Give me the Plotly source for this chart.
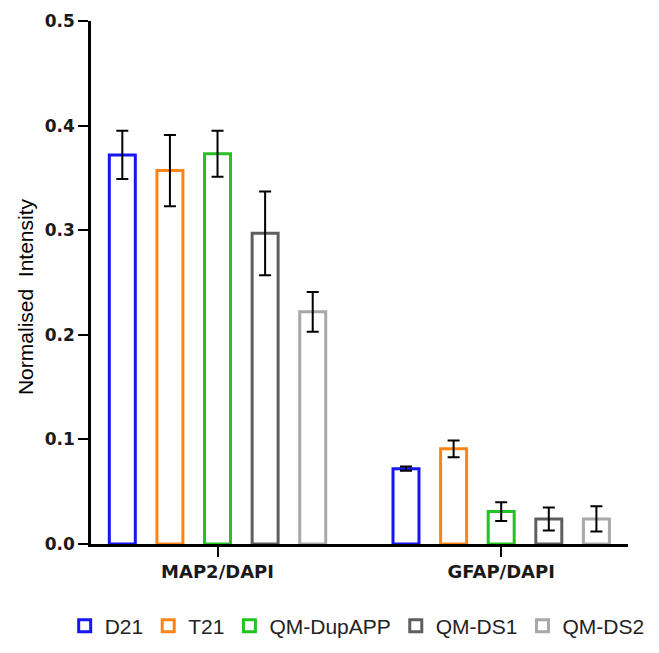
import plotly.graph_objects as go

categories = ["MAP2/DAPI", "GFAP/DAPI"]
series_names = ["D21", "T21", "QM-DupAPP", "QM-DS1", "QM-DS2"]
d21 = [0.372, 0.072]
d21_err = [0.023, 0.002]
t21 = [0.357, 0.091]
t21_err = [0.034, 0.008]
dupapp = [0.373, 0.031]
dupapp_err = [0.022, 0.009]
ds1 = [0.297, 0.024]
ds1_err = [0.040, 0.011]
ds2 = [0.222, 0.024]
ds2_err = [0.019, 0.012]
colors = ["#1515f5", "#ff8418", "#22c322", "#5f5f5f", "#a8a8a8"]
y_ticks = [0.0, 0.1, 0.2, 0.3, 0.4, 0.5]

values = [d21, t21, dupapp, ds1, ds2]
errors = [d21_err, t21_err, dupapp_err, ds1_err, ds2_err]

fig = go.Figure()
for name, v, e, c in zip(series_names, values, errors, colors):
    fig.add_trace(go.Bar(
        x=categories, y=v, name=name,
        marker=dict(color="white", line=dict(color=c, width=3)),
        error_y=dict(type="data", array=e, visible=True, color="black",
                     thickness=2, width=6),
    ))

fig.update_layout(
    width=651, height=645,
    margin=dict(l=83, r=31, t=13, b=109, autoexpand=False),
    plot_bgcolor="white", paper_bgcolor="white",
    barmode="group", bargap=0.161, bargroupgap=0.454,
    showlegend=True,
    legend=dict(orientation="h", x=-0.049, xanchor="left", y=-0.157,
                yanchor="middle", font=dict(family="Liberation Sans", size=21, color="#222"),
                itemclick=False, traceorder="normal", itemwidth=30,
                tracegroupgap=0),
    xaxis=dict(range=[-0.446, 1.447], showline=True, linecolor="black", linewidth=2.5,
               ticks="outside", ticklen=10, tickwidth=2, tickcolor="black",
               showgrid=False, zeroline=False, automargin=False,
               tickfont=dict(family="DejaVu Sans", size=18, color="#1a1a1a", weight="bold")),
    yaxis=dict(range=[0, 0.5], tickvals=y_ticks, tickformat=".1f",
               showline=True, linecolor="black", linewidth=2.5,
               ticks="outside", ticklen=10, tickwidth=2, tickcolor="black",
               showgrid=False, zeroline=False, automargin=False,
               tickfont=dict(family="DejaVu Sans", size=17, color="#1a1a1a", weight="bold")),
)

fig.add_annotation(text="Normalised\u00a0 Intensity", textangle=-90,
                   xref="paper", yref="paper", x=-0.123, y=0.474,
                   xanchor="center", yanchor="middle",
                   showarrow=False,
                   font=dict(family="Liberation Sans", size=21, color="#000"))

fig.write_html("out.html")
